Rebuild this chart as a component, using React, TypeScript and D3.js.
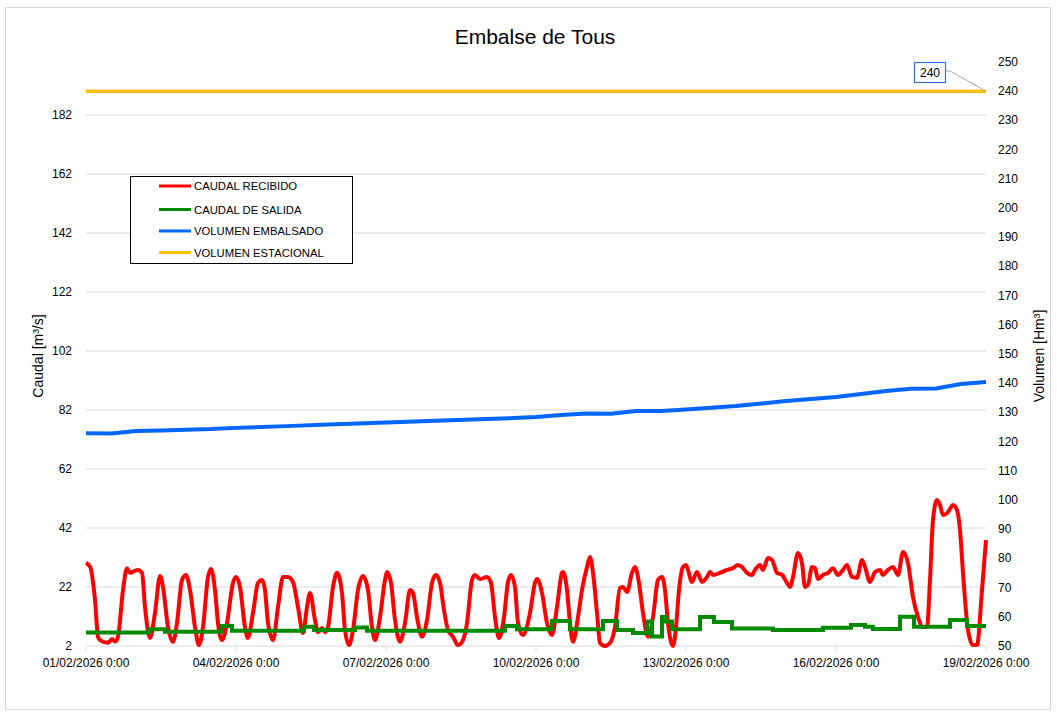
import React from "react";
import * as d3 from "d3";

// ---- data ----
const START = new Date(2026, 1, 1, 0, 0);
const xTickDays = [0, 3, 6, 9, 12, 15, 18];
const leftTicks = [2, 22, 42, 62, 82, 102, 122, 142, 162, 182];
const rightTicks = [50, 60, 70, 80, 90, 100, 110, 120, 130, 140, 150, 160, 170, 180, 190, 200, 210, 220, 230, 240, 250];

// [day offset, m3/s]
const caudalRecibido: [number, number][] = [
  [0, 30.2], [0.08, 28.9], [0.18, 17.6], [0.24, 5.1], [0.28, 4.0], [0.44, 3.1], [0.52, 4.4], [0.58, 3.5], [0.64, 5.2],
  [0.74, 21.0], [0.82, 28.4], [0.88, 26.8], [0.94, 27.2], [1.04, 27.8], [1.12, 26.8], [1.18, 15.2], [1.28, 4.7],
  [1.38, 13.2], [1.48, 25.7], [1.54, 22.0], [1.64, 8.4], [1.74, 3.4], [1.82, 9.8], [1.92, 24.4], [2.0, 26.1],
  [2.08, 21.0], [2.18, 8.4], [2.26, 2.3], [2.34, 8.4], [2.44, 25.4], [2.5, 28.1], [2.58, 21.0], [2.64, 9.8],
  [2.72, 4.0], [2.82, 9.8], [2.94, 23.4], [3.0, 25.4], [3.08, 22.0], [3.18, 8.4], [3.24, 4.7], [3.34, 13.2],
  [3.44, 23.4], [3.52, 24.4], [3.58, 21.0], [3.64, 9.8], [3.74, 4.0], [3.84, 15.2], [3.94, 25.4], [4.04, 25.4],
  [4.14, 23.7], [4.24, 15.2], [4.34, 6.4], [4.42, 15.2], [4.48, 20.0], [4.58, 10.8], [4.64, 6.7], [4.72, 8.1],
  [4.78, 6.7], [4.84, 8.4], [4.94, 22.0], [5.02, 26.8], [5.12, 20.0], [5.18, 7.4], [5.26, 2.3], [5.34, 7.4],
  [5.44, 21.0], [5.54, 25.7], [5.64, 21.0], [5.72, 8.4], [5.78, 4.0], [5.88, 11.8], [5.98, 24.4], [6.02, 27.1],
  [6.1, 23.4], [6.18, 10.8], [6.28, 3.4], [6.38, 9.8], [6.48, 21.0], [6.54, 20.0], [6.62, 11.8], [6.72, 5.1],
  [6.82, 10.8], [6.92, 23.4], [7.0, 26.1], [7.08, 23.4], [7.16, 14.2], [7.24, 7.4], [7.34, 5.1], [7.44, 2.3],
  [7.54, 4.0], [7.62, 9.8], [7.72, 24.4], [7.78, 26.1], [7.88, 24.7], [8.02, 25.4], [8.1, 23.4], [8.18, 11.8],
  [8.26, 4.7], [8.36, 11.8], [8.44, 23.7], [8.5, 26.1], [8.58, 22.0], [8.64, 9.8], [8.74, 5.7], [8.88, 13.2],
  [8.98, 23.4], [9.02, 24.7], [9.12, 20.0], [9.22, 9.8], [9.32, 5.7], [9.42, 15.2], [9.52, 26.8], [9.54, 27.1],
  [9.62, 21.0], [9.68, 9.8], [9.74, 3.4], [9.84, 11.8], [9.92, 21.0], [10.02, 28.8], [10.08, 32.2], [10.14, 26.8],
  [10.22, 13.2], [10.28, 3.0], [10.38, 2.0], [10.48, 3.0], [10.58, 8.4], [10.68, 21.7], [10.74, 22.0], [10.82, 20.3],
  [10.92, 26.8], [10.98, 28.8], [11.06, 23.4], [11.14, 13.2], [11.24, 5.1], [11.34, 11.8], [11.44, 24.4], [11.52, 25.4],
  [11.58, 21.0], [11.64, 9.8], [11.74, 2.0], [11.8, 8.4], [11.86, 21.0], [11.94, 28.8], [12.0, 29.5], [12.04, 27.8],
  [12.12, 23.7], [12.22, 27.1], [12.32, 23.7], [12.42, 25.4], [12.48, 27.1], [12.54, 26.1], [12.68, 26.8], [12.82, 27.8],
  [12.94, 28.4], [13.04, 29.5], [13.12, 28.8], [13.22, 26.8], [13.32, 26.1], [13.38, 27.8], [13.48, 29.5], [13.54, 27.8],
  [13.64, 31.8], [13.72, 31.2], [13.82, 26.8], [13.92, 26.1], [14.02, 23.4], [14.08, 22.0], [14.14, 25.4], [14.24, 33.5],
  [14.32, 30.1], [14.38, 22.0], [14.44, 22.7], [14.52, 28.8], [14.58, 28.4], [14.64, 24.7], [14.74, 26.1], [14.84, 26.8],
  [14.94, 28.4], [15.04, 26.1], [15.14, 27.8], [15.22, 29.5], [15.32, 25.4], [15.42, 25.1], [15.52, 31.2], [15.58, 28.8],
  [15.68, 23.7], [15.78, 27.1], [15.88, 27.8], [15.94, 26.1], [16.04, 27.8], [16.14, 28.8], [16.24, 26.1], [16.34, 33.9],
  [16.44, 30.1], [16.54, 18.6], [16.64, 11.8], [16.74, 8.4], [16.82, 8.4], [16.88, 24.4], [16.94, 44.7], [17.02, 51.5],
  [17.08, 49.8], [17.14, 46.4], [17.24, 47.4], [17.34, 49.8], [17.42, 48.1], [17.48, 41.3], [17.54, 26.8], [17.64, 7.4],
  [17.74, 2.3], [17.82, 2.3], [17.92, 21.0], [18.0, 37.9],
];

// [day offset where level starts, m3/s]
const caudalSalida: [number, number][] = [
  [0, 6.6], [1.28, 7.7], [1.58, 6.8], [2.72, 8.8], [2.92, 7.2], [4.36, 8.5], [4.56, 7.4], [5.38, 8.3], [5.62, 7.2],
  [8.38, 8.8], [8.62, 7.7], [9.32, 10.5], [9.68, 7.7], [10.34, 10.5], [10.62, 7.4], [10.94, 6.4], [11.22, 10.3],
  [11.32, 5.2], [11.52, 11.8], [11.58, 10.3], [11.72, 7.7], [12.28, 11.8], [12.56, 10.1], [12.92, 7.9], [13.74, 7.4],
  [14.74, 8.2], [15.3, 9.1], [15.58, 8.5], [15.74, 7.8], [16.28, 11.9], [16.56, 8.5], [17.28, 10.8], [17.62, 8.8],
  [18.0, 8.8],
];

// [day offset, Hm3]
const volumenEmbalsado: [number, number][] = [
  [0, 122.9], [0.5, 122.8], [1, 123.6], [1.5, 123.8], [2, 124.1], [2.5, 124.3], [3, 124.7], [4, 125.3], [5, 125.9],
  [6, 126.5], [7, 127.1], [8, 127.7], [9, 128.4], [9.5, 129.1], [10, 129.6], [10.5, 129.5], [11, 130.5], [11.5, 130.5],
  [12, 131.0], [13, 132.2], [14, 133.9], [15, 135.3], [16, 137.3], [16.5, 138.1], [17, 138.2], [17.5, 139.7], [18, 140.4],
];

const volumenEstacional: [number, number][] = [[0, 240], [18, 240]];

const legendItems = [
  { label: "CAUDAL RECIBIDO", color: "#FF0000" },
  { label: "CAUDAL DE SALIDA", color: "#008A00" },
  { label: "VOLUMEN EMBALSADO", color: "#0066FF" },
  { label: "VOLUMEN ESTACIONAL", color: "#FFC000" },
];

const FONT = "'Liberation Sans', Arial, sans-serif";

const dayToDate = (d: number) => new Date(START.getTime() + d * 86400000);

export default function App() {
  const W = 1057, H = 716;
  const x = d3.scaleTime().domain([dayToDate(0), dayToDate(18)]).range([86, 986]);
  const yL = d3.scaleLinear().domain([2, 200]).range([646, 62]);
  const yR = d3.scaleLinear().domain([50, 250]).range([646, 62]);
  const fmt = d3.timeFormat("%d/%m/%Y %-H:%M");

  const lineL = d3.line<[number, number]>().x(d => x(dayToDate(d[0]))).y(d => yL(d[1])).curve(d3.curveMonotoneX);
  const stepL = d3.line<[number, number]>().x(d => x(dayToDate(d[0]))).y(d => yL(d[1])).curve(d3.curveStepAfter);
  const lineR = d3.line<[number, number]>().x(d => x(dayToDate(d[0]))).y(d => yR(d[1]));

  const xEnd = x(dayToDate(18));
  const yAnn = yR(240);

  return (
    <svg width={W} height={H} style={{ position: "absolute", left: 0, top: 0, background: "#fff" }} fontFamily={FONT}>
      <rect x={5.5} y={7.5} width={1045} height={702} fill="#fff" stroke="#d9d9d9" />
      <text x={535} y={44} textAnchor="middle" fontSize={21} fill="#000">Embalse de Tous</text>

      {leftTicks.map(t => (
        <g key={"gl" + t}>
          {t !== 2 && <line x1={86} x2={986} y1={yL(t)} y2={yL(t)} stroke="#d9d9d9" strokeWidth={1} />}
          <text x={72} y={yL(t) + 4} textAnchor="end" fontSize={12} fill="#000">{t}</text>
        </g>
      ))}
      {rightTicks.map(t => (
        <text key={"r" + t} x={998} y={yR(t) + 4} textAnchor="start" fontSize={12} fill="#000">{t}</text>
      ))}
      <line x1={86} x2={986} y1={646} y2={646} stroke="#d9d9d9" strokeWidth={1} />
      {xTickDays.map(d => (
        <g key={"x" + d}>
          <line x1={x(dayToDate(d))} x2={x(dayToDate(d))} y1={646} y2={651} stroke="#d9d9d9" />
          <text x={x(dayToDate(d))} y={667} textAnchor="middle" fontSize={12} fill="#000">{fmt(dayToDate(d))}</text>
        </g>
      ))}

      <text transform={`translate(43,356) rotate(-90)`} textAnchor="middle" fontSize={14} fill="#000">Caudal [m³/s]</text>
      <text transform={`translate(1044,356) rotate(-90)`} textAnchor="middle" fontSize={14} fill="#000">Volumen [Hm³]</text>

      <path d={lineR(volumenEstacional) || ""} fill="none" stroke="#FFC000" strokeWidth={3.5} />
      <path d={lineR(volumenEmbalsado) || ""} fill="none" stroke="#0066FF" strokeWidth={4} strokeLinejoin="round" />
      <path d={lineL(caudalRecibido) || ""} fill="none" stroke="#FF0000" strokeWidth={4} strokeLinejoin="round" />
      <path d={stepL(caudalSalida) || ""} fill="none" stroke="#008A00" strokeWidth={4} />

      <line x1={946} y1={71} x2={950} y2={71} stroke="#a6a6a6" />
      <line x1={950} y1={71} x2={xEnd} y2={yAnn} stroke="#a6a6a6" />
      <rect x={914.5} y={62.5} width={31} height={20} fill="#fff" stroke="#2F6FE8" strokeWidth={1.2} />
      <text x={930} y={77} textAnchor="middle" fontSize={12} fill="#000">240</text>

      <rect x={130.5} y={176.5} width={222} height={87} fill="#fff" stroke="#000" strokeWidth={1} />
      {legendItems.map((it, i) => {
        const yy = [186, 209.5, 231, 252.5][i];
        return (
          <g key={it.label}>
            <line x1={159} x2={191} y1={yy} y2={yy} stroke={it.color} strokeWidth={3} />
            <text x={194} y={yy + 4} fontSize={11.3} fill="#000">{it.label}</text>
          </g>
        );
      })}
    </svg>
  );
}
